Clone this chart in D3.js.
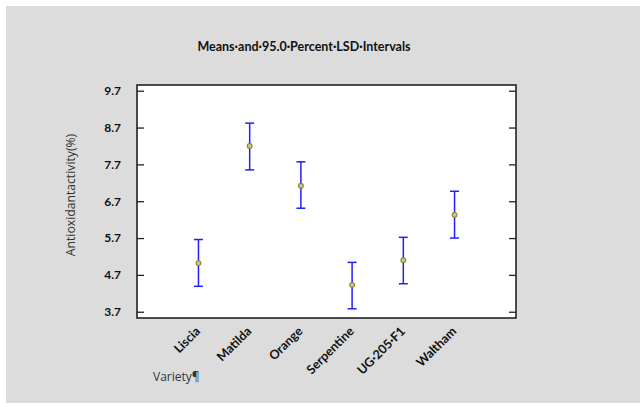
<!DOCTYPE html>
<html>
<head>
<meta charset="utf-8">
<script src="https://cdn.jsdelivr.net/npm/d3@7"></script>
<style>
  body { margin: 0; background: #fff; }
  svg { display: block; }
</style>
</head>
<body>
<div id="chart"></div>
<script>
// means with 95% LSD intervals
const varieties = ['Liscia', 'Matilda', 'Orange', 'Serpentine', 'UG·205·F1', 'Waltham'];
const means = [5.02, 8.20, 7.12, 4.43, 5.10, 6.33];
const lower = [4.39, 7.55, 6.51, 3.78, 4.46, 5.70];
const upper = [5.66, 8.82, 7.77, 5.04, 5.72, 6.97];
const yTicks = [3.7, 4.7, 5.7, 6.7, 7.7, 8.7, 9.7];

const W = 640, H = 407;
const plot = { left: 137, top: 85, right: 516, bottom: 318 };

const svg = d3.select('#chart').append('svg')
    .attr('width', W)
    .attr('height', H);

// page background like the screenshot
svg.append('rect')
    .attr('x', 6).attr('y', 6)
    .attr('width', W - 6).attr('height', 397)
    .attr('fill', '#dcdcdc');

const x = d3.scalePoint()
    .domain(varieties)
    .range([plot.left, plot.right])
    .padding(1.2);

const y = d3.scaleLinear()
    .domain([3.53, 9.855])
    .range([plot.bottom, plot.top]);

svg.append('rect')
    .attr('x', plot.left).attr('y', plot.top)
    .attr('width', plot.right - plot.left)
    .attr('height', plot.bottom - plot.top)
    .attr('fill', '#fff');

// ticks inside on left and right
const leftAxis = d3.axisLeft(y).tickValues(yTicks).tickSize(-7).tickFormat(d3.format('.1f')).tickPadding(16);
const gl = svg.append('g').attr('transform', `translate(${plot.left},0)`).call(leftAxis);
gl.select('.domain').remove();
gl.selectAll('line').attr('stroke', '#222').attr('stroke-width', 1.3);
gl.selectAll('text')
    .attr('font-family', 'Lato, "Open Sans", sans-serif')
    .attr('font-weight', 'bold')
    .attr('font-size', 12)
    .attr('fill', '#111');

const rightAxis = d3.axisRight(y).tickValues(yTicks).tickSize(-7).tickFormat('');
const gr = svg.append('g').attr('transform', `translate(${plot.right},0)`).call(rightAxis);
gr.select('.domain').remove();
gr.selectAll('line').attr('stroke', '#222').attr('stroke-width', 1.3);

// frame
svg.append('rect')
    .attr('x', plot.left).attr('y', plot.top)
    .attr('width', plot.right - plot.left)
    .attr('height', plot.bottom - plot.top)
    .attr('fill', 'none')
    .attr('stroke', '#222')
    .attr('stroke-width', 1.6);

// x labels, rotated
const bottomAxis = d3.axisBottom(x).tickSize(0).tickPadding(0);
const gb = svg.append('g').attr('transform', `translate(0,${plot.bottom})`).call(bottomAxis);
gb.select('.domain').remove();
gb.selectAll('text')
    .attr('font-family', 'Lato, "Open Sans", sans-serif')
    .attr('font-weight', 'bold')
    .attr('font-size', 12.5)
    .attr('fill', '#111')
    .attr('text-anchor', 'end')
    .attr('dy', 0)
    .attr('transform', 'translate(2,14) rotate(-45)');

// error bars
const bars = svg.append('g');
varieties.forEach((v, i) => {
    const cx = x(v);
    bars.append('line')
        .attr('x1', cx).attr('x2', cx)
        .attr('y1', y(lower[i])).attr('y2', y(upper[i]))
        .attr('stroke', '#1f1fff').attr('stroke-width', 1.5);
    [lower[i], upper[i]].forEach(b => {
        bars.append('line')
            .attr('x1', cx - 4.5).attr('x2', cx + 4.5)
            .attr('y1', y(b)).attr('y2', y(b))
            .attr('stroke', '#1f1fff').attr('stroke-width', 1.5);
    });
    bars.append('circle')
        .attr('cx', cx).attr('cy', y(means[i]))
        .attr('r', 2.4)
        .attr('fill', '#c4c4b4')
        .attr('stroke', '#8a8a10')
        .attr('stroke-width', 1.1);
});

svg.append('text')
    .attr('x', 304).attr('y', 51)
    .attr('text-anchor', 'middle')
    .attr('font-family', 'Lato, "Open Sans", sans-serif')
    .attr('font-weight', 'bold')
    .attr('font-size', 12.5)
    .attr('fill', '#111')
    .text('Means·and·95.0·Percent·LSD·Intervals');

svg.append('text')
    .attr('transform', 'translate(75,195) rotate(-90)')
    .attr('text-anchor', 'middle')
    .attr('font-family', '"Open Sans", sans-serif')
    .attr('font-size', 12.2)
    .attr('fill', '#333')
    .text('Antioxidantactivity(%)');

svg.append('text')
    .attr('x', 153).attr('y', 381)
    .attr('font-family', '"Open Sans", sans-serif')
    .attr('font-size', 12)
    .attr('fill', '#333')
    .text('Variety¶');
</script>
</body>
</html>
